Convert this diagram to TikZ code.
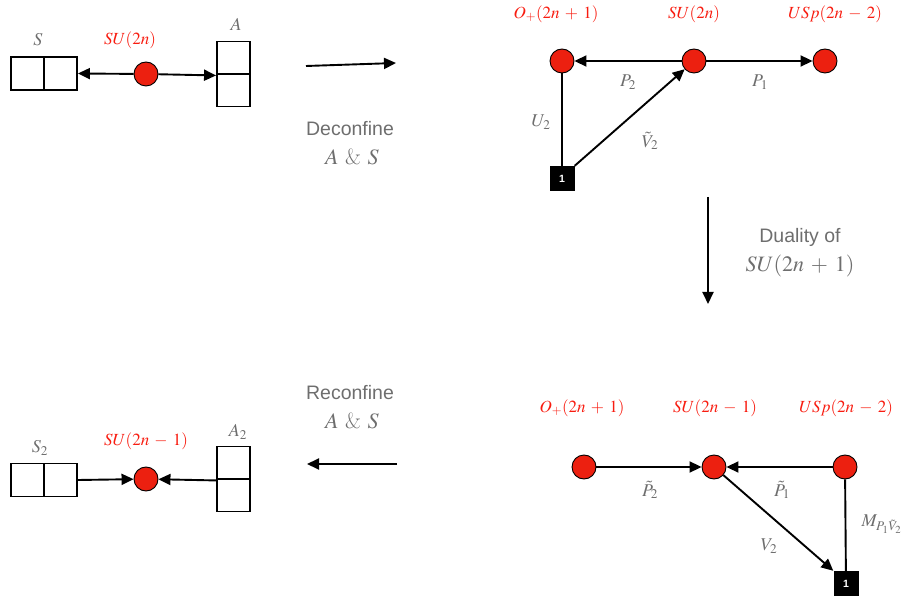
\documentclass[tikz,border=0pt]{standalone}
\usepackage{mathptmx}
\usepackage[no-math]{fontspec}
\setsansfont{Liberation Sans}
\usetikzlibrary{arrows.meta}
\definecolor{gred}{RGB}{236,32,16}
\definecolor{lred}{RGB}{248,28,16}
\definecolor{lgray}{RGB}{110,110,110}
\medmuskip=5.5mu
\tikzset{
  grp/.style={circle,draw=black,line width=0.9pt,fill=gred,minimum size=24pt,inner sep=0pt},
  flav/.style={rectangle,fill=black,minimum size=25pt,inner sep=0pt,text=white,font=\sffamily\bfseries\fontsize{10.5}{10.5}\selectfont},
  cell/.style={rectangle,draw=black,line width=1.9pt,minimum size=33pt,inner sep=0pt},
  glab/.style={text=lred,font=\fontsize{17}{17}\selectfont},
  elab/.style={text=lgray,font=\fontsize{18}{18}\selectfont},
  txt/.style={text=lgray,font=\sffamily\fontsize{19.5}{19.5}\selectfont},
  mtxt/.style={text=lgray,font=\fontsize{22}{22}\selectfont},
  con/.style={line width=1.9pt,draw=black},
  arr/.style={con,-{Triangle[length=12pt,width=11pt]}},
}
\begin{document}
\begin{tikzpicture}[x=1pt,y=-1pt]
\useasboundingbox (0,0) rectangle (907,601);
% ---------- top left ----------
\node[cell] (s1) at (27.5,73.5) {};
\node[cell] (s2) at (60.5,73.5) {};
\node[elab] (sl) at (38,40) {$S$};
\node[grp] (g0) at (146,74) {};
\node[glab] (g0l) at (130,40) {$SU(2n)$};
\node[cell] (a1) at (233.5,58) {};
\node[cell] (a2) at (233.5,90) {};
\node[elab] (al) at (236,24) {$A$};
\draw[arr] (g0) -- (s2.east);
\draw[arr] (g0) -- (a1.south west);
% ---------- deconfine arrow ----------
\coordinate (d1) at (306,66);
\coordinate (d2) at (396,63);
\draw[arr] (d1) -- (d2);
\node[txt] (dt) at (350,129) {Deconfine};
\node[mtxt] (dm) at (352,157) {$A$ \& $S$};
% ---------- top right ----------
\node[grp] (o1) at (562,61) {};
\node[grp] (u1) at (694,61) {};
\node[grp] (p1) at (825,61) {};
\node[glab] (o1l) at (556,14) {$O_+(2n+1)$};
\node[glab] (u1l) at (694,14) {$SU(2n)$};
\node[glab] (p1l) at (835,14) {$USp(2n-2)$};
\node[flav] (f1) at (562,178.5) {1};
\draw[con] (o1) -- (f1);
\draw[arr] (f1.north east) -- (u1);
\draw[arr] (u1) -- (o1);
\draw[arr] (u1) -- (p1);
\node[elab] at (541,122) {$U_2$};
\node[elab] at (650,141) {$\tilde V_2$};
\node[elab] at (628,82) {$P_2$};
\node[elab] at (760,82) {$P_1$};
% ---------- duality arrow ----------
\coordinate (v1) at (708,197);
\coordinate (v2) at (708,304);
\draw[arr] (v1) -- (v2);
\node[txt] (vt) at (800,237) {Duality of};
\node[mtxt] (vm) at (800,266) {$SU(2n+1)$};
% ---------- bottom right ----------
\node[grp] (o2) at (584,467) {};
\node[grp] (u2) at (714,467) {};
\node[grp] (p2) at (845,467) {};
\node[glab] (o2l) at (582,408) {$O_+(2n+1)$};
\node[glab] (u2l) at (715,408) {$SU(2n-1)$};
\node[glab] (p2l) at (846,408) {$USp(2n-2)$};
\node[flav] (f2) at (846,583.5) {1};
\draw[arr] (o2) -- (u2);
\draw[arr] (p2) -- (u2);
\draw[arr] (u2) -- (f2.north west);
\draw[con] (p2) -- (f2);
\node[elab] at (650,490) {$\tilde P_2$};
\node[elab] at (782,490) {$\tilde P_1$};
\node[elab] at (769,546) {$V_2$};
\node[elab,anchor=west] at (858,524) {$M_{P_1\tilde V_2}$};
% ---------- reconfine arrow ----------
\coordinate (r1) at (397,464);
\coordinate (r2) at (307,464);
\draw[arr] (r1) -- (r2);
\node[txt] (rt) at (350,393) {Reconfine};
\node[mtxt] (rm) at (352,421) {$A$ \& $S$};
% ---------- bottom left ----------
\node[cell] (t1) at (27.5,480) {};
\node[cell] (t2) at (60.5,480) {};
\node[elab] (tl) at (40,448) {$S_2$};
\node[grp] (g3) at (146,479) {};
\node[glab] (g3l) at (146,441) {$SU(2n-1)$};
\node[cell] (b1) at (233.5,463) {};
\node[cell] (b2) at (233.5,495) {};
\node[elab] (bl) at (238,432) {$A_2$};
\draw[arr] (t2.east) -- (g3);
\draw[arr] (b1.south west) -- (g3);
\end{tikzpicture}
\end{document}
